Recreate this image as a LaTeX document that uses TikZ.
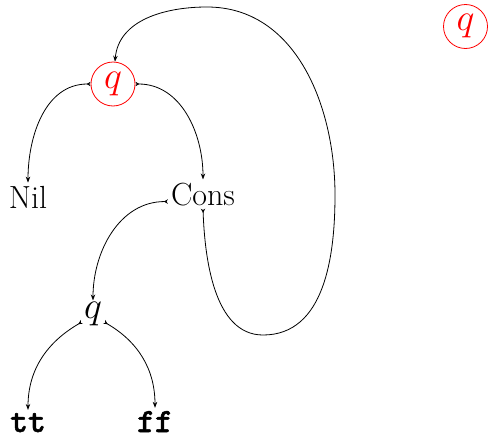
\RequirePackage{fix-cm}
\documentclass[tikz,border=0pt]{standalone}
\usepackage{fontspec}
\newfontfamily\ttbold{lmmonolt10-bold.otf}[FakeBold=1.5]
\usetikzlibrary{arrows.meta}

\tikzset{
  lbl/.style={anchor=base, inner sep=3pt, font=\fontsize{32}{38}\selectfont},
  tvl/.style={anchor=base, inner sep=3pt, font=\fontsize{34}{40}\selectfont\ttbold},
  qnode/.style={inner sep=2pt, font=\fontsize{38}{44}\selectfont},
  redq/.style={circle, draw=red, text=red, line width=0.8pt, minimum size=44pt, inner sep=0pt, font=\fontsize{38}{44}\selectfont},
  edge/.style={line width=0.8pt,
    {Stealth[reversed,length=4pt,width=4.5pt]}-{Stealth[length=6pt,width=4.5pt]}},
}

\begin{document}
\begin{tikzpicture}[x=1pt,y=-1pt]
  \useasboundingbox (0,0) rectangle (489,439);

  % nodes
  \node[redq] (q0) at (113,84) {$q$};
  \node[redq] (qr) at (465.5,26.5) {$q$};
  \node[lbl] (nil) at (28,208) {Nil};
  \node[lbl] (cons) at (203,205) {Cons};
  \node[qnode] (q1) at (93,314.5) {$q$};
  \node[tvl] (tt) at (28,432) {tt};
  \node[tvl] (ff) at (155,432) {ff};

  % waypoints of the recursive edge
  \coordinate (lpbot) at (263,335);
  \coordinate (lpright) at (335,195);
  \coordinate (lptop) at (207,7);

  % edges
  \draw[edge] (q0.west) to[out=180,in=90] (nil.north);
  \draw[edge] (q0.east) to[out=0,in=90] (cons.north);
  \draw[edge] (cons.192) to[out=180,in=90] (q1.north);
  \draw[edge] (q1.214) to[out=210,in=90] (tt.north);
  \draw[edge] (q1.-34) to[out=-30,in=90] (ff.north);
  \draw[edge] (cons.south) to[out=-88,in=180,looseness=0.9] (lpbot)
    to[out=0,in=-90] (lpright)
    to[out=90,in=0] (lptop)
    to[out=180,in=85] (q0.85);
\end{tikzpicture}
\end{document}
